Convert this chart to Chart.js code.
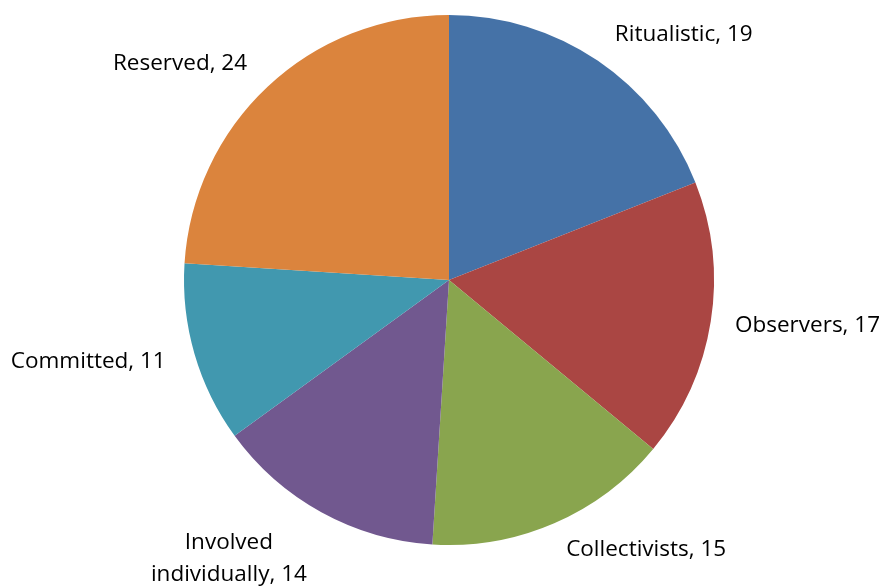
<!DOCTYPE html>
<html>
<head>
<meta charset="utf-8">
<script src="https://cdn.jsdelivr.net/npm/chart.js@4.4.1/dist/chart.umd.min.js"></script>
<style>
  html, body { margin: 0; padding: 0; background: #ffffff; }
  #wrap { width: 883px; height: 587px; position: relative; }
</style>
</head>
<body>
<div id="wrap"><canvas id="pie"></canvas></div>
<script>
const categories = ["Ritualistic", "Observers", "Collectivists", "Involved\nindividually", "Committed", "Reserved"];
const values = [19, 17, 15, 14, 11, 24];
const colors = ["#4572A7", "#AA4643", "#89A54E", "#71588F", "#4198AF", "#DB843D"];

const labelFont = "22.5px 'Open Sans', sans-serif";
const lineHeight = 32;
const labelGap = 30;

// draws "Name, value" beside each slice, pushed out along the slice's mid angle
const outsideLabels = {
  id: "outsideLabels",
  afterDraw(chart) {
    const ctx = chart.ctx;
    const arcs = chart.getDatasetMeta(0).data;
    ctx.save();
    ctx.font = labelFont;
    ctx.fillStyle = "#000000";
    ctx.textBaseline = "middle";
    arcs.forEach((arc, i) => {
      const mid = (arc.startAngle + arc.endAngle) / 2;
      const r = arc.outerRadius + labelGap;
      const ax = arc.x + Math.cos(mid) * r;
      const ay = arc.y + Math.sin(mid) * r - 1;
      const lines = (categories[i] + ", " + values[i]).split("\n");
      const widths = lines.map(l => ctx.measureText(l).width);
      const blockW = Math.max(...widths);
      let left = Math.cos(mid) >= 0 ? ax : ax - blockW;
      // keep the text inside the canvas
      left = Math.max(4, Math.min(left, chart.width - blockW - 3));
      // wrapped labels grow away from the pie
      const shift = (lines.length - 1) * lineHeight * 0.65 * Math.sign(Math.sin(mid));
      const top = ay + shift - (lines.length - 1) * lineHeight / 2;
      ctx.textAlign = "center";
      lines.forEach((l, k) => {
        ctx.fillText(l, left + blockW / 2, top + k * lineHeight);
      });
    });
    ctx.restore();
  },
};

new Chart(document.getElementById("pie"), {
  type: "pie",
  data: {
    labels: categories,
    datasets: [{
      data: values,
      backgroundColor: colors,
      borderWidth: 0,
    }],
  },
  options: {
    responsive: true,
    maintainAspectRatio: false,
    animation: false,
    layout: {
      padding: { top: 15, bottom: 42, left: 184, right: 169 },
    },
    plugins: {
      legend: { display: false },
      tooltip: { enabled: false },
    },
  },
  plugins: [outsideLabels],
});
</script>
</body>
</html>
